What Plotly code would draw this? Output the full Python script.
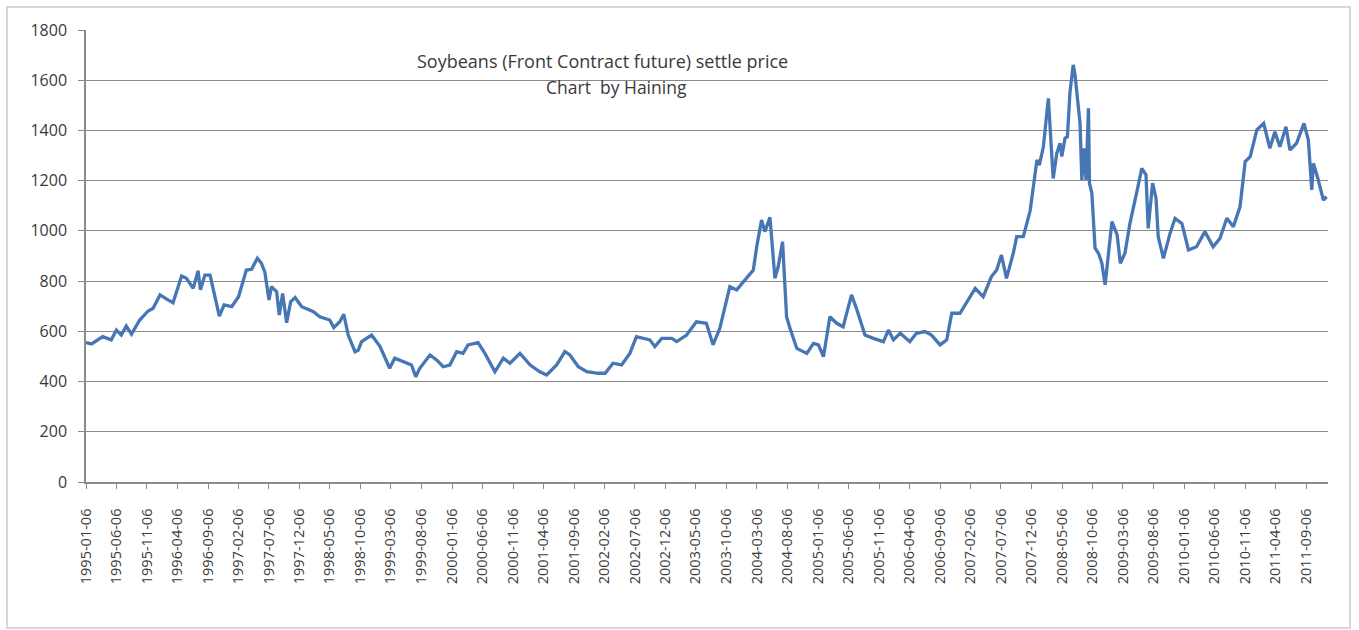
import plotly.graph_objects as go

# Soybeans front-month futures settle price, sampled at turning points
dates = [
    "1995-01-06", "1995-02-03", "1995-03-30", "1995-05-12", "1995-06-07", "1995-07-01",
    "1995-07-26", "1995-08-21", "1995-10-01", "1995-11-12", "1995-12-07", "1996-01-10",
    "1996-02-13", "1996-03-15", "1996-04-27", "1996-05-21", "1996-06-24", "1996-07-18",
    "1996-07-30", "1996-08-21", "1996-09-16", "1996-10-02", "1996-11-01", "1996-11-25",
    "1997-01-02", "1997-02-05", "1997-03-16", "1997-04-11", "1997-05-10", "1997-05-30",
    "1997-06-16", "1997-07-07", "1997-07-19", "1997-08-14", "1997-08-27", "1997-09-13",
    "1997-10-03", "1997-10-23", "1997-11-14", "1997-12-17", "1998-02-14", "1998-03-17",
    "1998-05-06", "1998-05-26", "1998-06-25", "1998-07-15", "1998-08-06", "1998-09-09",
    "1998-09-25", "1998-10-12", "1998-12-01", "1999-01-12", "1999-03-01", "1999-03-26",
    "1999-06-18", "1999-07-09", "1999-07-29", "1999-09-18", "1999-10-21", "1999-11-23",
    "1999-12-26", "2000-01-29", "2000-03-01", "2000-03-26", "2000-05-15", "2000-06-18",
    "2000-08-07", "2000-09-18", "2000-10-21", "2000-12-10", "2001-01-30", "2001-03-19",
    "2001-04-22", "2001-06-11", "2001-07-22", "2001-08-16", "2001-09-27", "2001-11-08",
    "2002-01-05", "2002-02-08", "2002-03-19", "2002-05-01", "2002-06-11", "2002-07-14",
    "2002-08-17", "2002-09-19", "2002-10-14", "2002-11-17", "2003-01-06", "2003-01-31",
    "2003-03-21", "2003-05-09", "2003-06-28", "2003-07-31", "2003-09-03", "2003-10-23",
    "2003-11-26", "2004-01-07", "2004-02-17", "2004-03-05", "2004-03-29", "2004-04-15",
    "2004-05-10", "2004-06-04", "2004-06-20", "2004-07-12", "2004-08-01", "2004-08-18",
    "2004-09-21", "2004-11-10", "2004-12-13", "2005-01-07", "2005-02-01", "2005-03-05",
    "2005-04-08", "2005-05-10", "2005-06-21", "2005-07-16", "2005-08-27", "2005-10-08",
    "2005-11-27", "2005-12-22", "2006-01-16", "2006-02-19", "2006-04-08", "2006-05-11",
    "2006-06-22", "2006-07-25", "2006-09-06", "2006-10-09", "2006-11-03", "2006-12-14",
    "2007-01-17", "2007-02-28", "2007-04-09", "2007-05-20", "2007-06-15", "2007-07-09",
    "2007-08-03", "2007-09-06", "2007-09-23", "2007-10-26", "2007-11-29", "2008-01-02",
    "2008-01-14", "2008-02-03", "2008-02-28", "2008-03-15", "2008-03-23", "2008-04-10",
    "2008-04-26", "2008-05-05", "2008-05-21", "2008-06-02", "2008-06-15", "2008-07-01",
    "2008-07-10", "2008-08-04", "2008-08-13", "2008-08-24", "2008-09-03", "2008-09-15",
    "2008-09-20", "2008-10-02", "2008-10-18", "2008-11-04", "2008-11-21", "2008-12-07",
    "2009-01-10", "2009-02-05", "2009-02-21", "2009-03-16", "2009-04-10", "2009-05-13",
    "2009-06-08", "2009-06-29", "2009-07-10", "2009-08-01", "2009-08-18", "2009-08-29",
    "2009-09-24", "2009-10-27", "2009-11-21", "2009-12-25", "2010-01-27", "2010-03-08",
    "2010-04-19", "2010-05-30", "2010-07-03", "2010-08-06", "2010-09-08", "2010-10-11",
    "2010-11-06", "2010-12-01", "2011-01-03", "2011-02-06", "2011-03-09", "2011-04-03",
    "2011-04-28", "2011-05-28", "2011-06-17", "2011-07-20", "2011-08-26", "2011-09-17",
    "2011-10-04", "2011-10-12", "2011-11-01", "2011-12-01", "2011-12-17",
]
settle = [
    555, 550, 579, 566, 605, 585,
    621, 589, 645, 681, 692, 745,
    728, 714, 820, 811, 771, 841,
    765, 824, 824, 765, 661, 705,
    698, 738, 844, 847, 891, 871,
    837, 725, 778, 758, 665, 751,
    634, 718, 735, 698, 678, 658,
    645, 615, 638, 668, 585, 519,
    525, 559, 585, 539, 453, 493,
    466, 419, 453, 506, 486, 459,
    466, 519, 512, 546, 555, 512,
    439, 493, 473, 512, 466, 439,
    426, 466, 519, 506, 459, 439,
    433, 433, 473, 466, 512, 579,
    572, 566, 539, 572, 572, 559,
    585, 638, 632, 546, 612, 778,
    765, 804, 844, 937, 1043, 997,
    1054, 811, 857, 957, 658, 612,
    532, 512, 552, 546, 499, 658,
    632, 618, 745, 690, 585, 572,
    559, 605, 566, 592, 559, 592,
    599, 585, 546, 566, 672, 672,
    718, 771, 738, 818, 844, 904,
    811, 911, 977, 977, 1080, 1282,
    1262, 1335, 1528, 1335, 1209, 1309,
    1349, 1296, 1369, 1375, 1554, 1661,
    1621, 1428, 1203, 1329, 1203, 1488,
    1190, 1150, 931, 911, 871, 785,
    1037, 984, 871, 911, 1030, 1150,
    1249, 1223, 1010, 1190, 1130, 977,
    891, 990, 1050, 1030, 924, 937,
    997, 937, 970, 1050, 1017, 1096,
    1276, 1296, 1402, 1428, 1329, 1395,
    1335, 1415, 1322, 1349, 1428, 1362,
    1163, 1269, 1216, 1123, 1136,
]

# Category tick labels, one every five months
tick_dates = []
y, m = 1995, 1
while (y, m) <= (2011, 9):
    tick_dates.append(f"{y:04d}-{m:02d}-06")
    m += 5
    if m > 12:
        m -= 12
        y += 1

y_ticks = list(range(0, 1801, 200))

axis_grey = "#8a8a8a"
text_grey = "#3a3a3a"
font_family = "Open Sans"

fig = go.Figure()
fig.add_trace(go.Scatter(
    x=dates, y=settle, mode="lines",
    line=dict(color="#4776b4", width=3.3),
    showlegend=False,
))

fig.update_layout(
    width=1359, height=630,
    margin=dict(l=86, r=31, t=30, b=148),
    paper_bgcolor="white", plot_bgcolor="white",
    font=dict(family=font_family, color=text_grey, size=15),
    xaxis=dict(
        type="date",
        range=["1995-01-06", "2011-12-24"],
        tickmode="array", tickvals=tick_dates, ticktext=tick_dates,
        tickangle=-90, tickfont=dict(size=14.5, color=text_grey),
        ticks="outside", ticklen=5, tickcolor=axis_grey,
        showline=True, linecolor=axis_grey, linewidth=1.5,
        showgrid=False, zeroline=False,
        ticklabelstandoff=14,
    ),
    yaxis=dict(
        range=[0, 1800],
        tickmode="array", tickvals=y_ticks,
        tickfont=dict(size=16, color=text_grey),
        ticks="outside", ticklen=6, tickcolor=axis_grey,
        showline=True, linecolor=axis_grey, linewidth=1.5,
        showgrid=True, gridcolor=axis_grey, gridwidth=1.2,
        zeroline=False,
        ticklabelstandoff=8,
    ),
    annotations=[
        dict(text="Soybeans (Front Contract future) settle price",
             xref="paper", yref="paper", x=0.416, y=0.932,
             xanchor="center", yanchor="middle", showarrow=False,
             font=dict(size=18, color=text_grey)),
        dict(text="Chart  by Haining",
             xref="paper", yref="paper", x=0.4275, y=0.8746,
             xanchor="center", yanchor="middle", showarrow=False,
             font=dict(size=17.5, color=text_grey)),
    ],
    shapes=[
        dict(type="rect", xref="paper", yref="paper",
             x0=-0.0636, x1=1.0177, y0=-0.323, y1=1.0509,
             line=dict(color="#c9c9c9", width=1.5), layer="below"),
    ],
)

fig.write_html("out.html", config={"displayModeBar": False})
